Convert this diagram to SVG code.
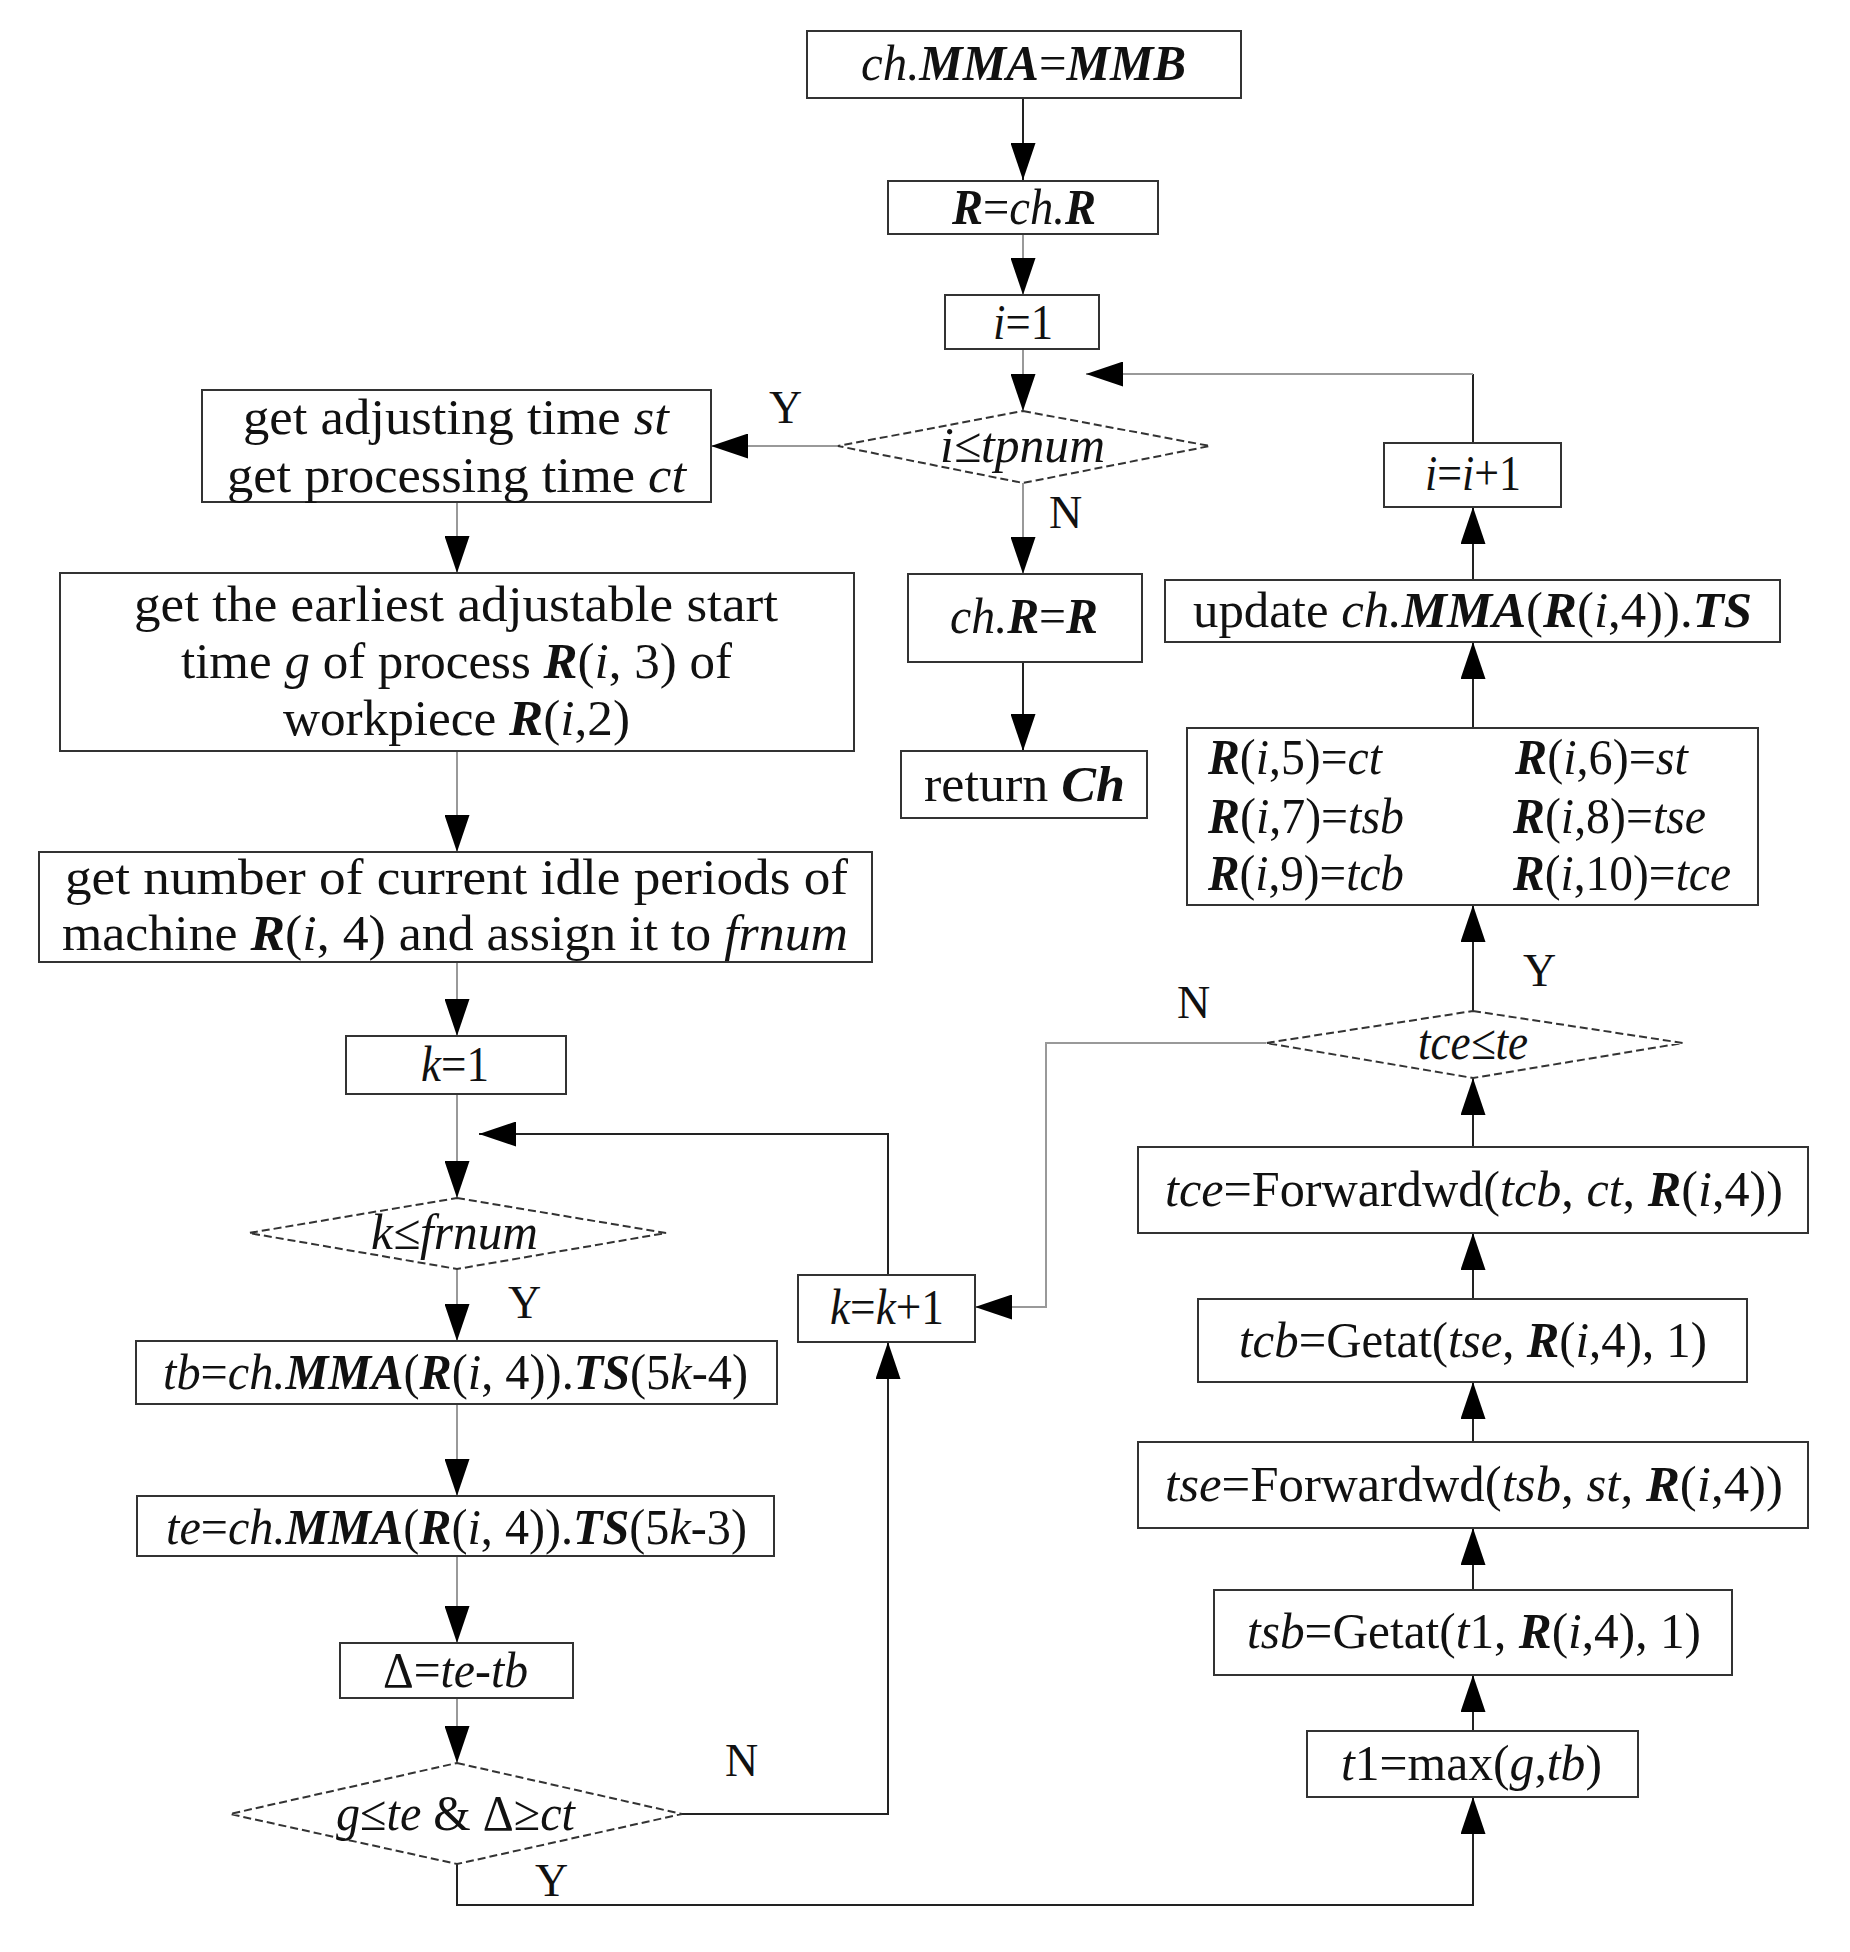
<svg xmlns="http://www.w3.org/2000/svg" width="1850" height="1952" viewBox="0 0 1850 1952">
<defs>
<style>
text{font-family:"Liberation Serif","Times New Roman",serif;font-size:50px;fill:#111}
.it{font-style:italic}
.bi{font-style:italic;font-weight:bold}
.box{fill:#fff;stroke:#333;stroke-width:2}
.dia{fill:#fff;stroke:#333;stroke-width:2;stroke-dasharray:8 4}
.ln{fill:none;stroke:#222;stroke-width:2}
.lg{fill:none;stroke:#999;stroke-width:2}
.lbl{font-size:46px}
</style>
<marker id="ah" viewBox="0 0 37 25" refX="37" refY="12.5" markerWidth="37" markerHeight="25" markerUnits="userSpaceOnUse" orient="auto">
<path d="M0,0 L37,12.5 L0,25 z" fill="#000"/>
</marker>
</defs>
<rect width="1850" height="1952" fill="#fff"/>

<g id="connectors">
<path class="ln" d="M1023,98 V180" marker-end="url(#ah)"/>
<path class="lg" d="M1023,234 V295" marker-end="url(#ah)"/>
<path class="lg" d="M1023,349 V411" marker-end="url(#ah)"/>
<path class="lg" d="M1023,483 V574" marker-end="url(#ah)"/>
<path class="ln" d="M1023,662 V751" marker-end="url(#ah)"/>
<path class="lg" d="M838,446 H711" marker-end="url(#ah)"/>
<path class="ln" d="M1473,443 V374"/>
<path class="lg" d="M1473,374 H1086" stroke-width="3" marker-end="url(#ah)"/>
<path class="lg" d="M457,502 V573" marker-end="url(#ah)"/>
<path class="lg" d="M457,751 V852" marker-end="url(#ah)"/>
<path class="lg" d="M457,962 V1036" marker-end="url(#ah)"/>
<path class="lg" d="M457,1094 V1198" marker-end="url(#ah)"/>
<path class="ln" d="M888,1275 V1134 H479" marker-end="url(#ah)"/>
<path class="lg" d="M457,1269 V1341" marker-end="url(#ah)"/>
<path class="lg" d="M457,1404 V1496" marker-end="url(#ah)"/>
<path class="lg" d="M457,1556 V1643" marker-end="url(#ah)"/>
<path class="lg" d="M457,1698 V1763" marker-end="url(#ah)"/>
<path class="ln" d="M682,1814 H888 V1342" marker-end="url(#ah)"/>
<path class="ln" d="M457,1864 V1905 H1473 V1797" marker-end="url(#ah)"/>
<path class="ln" d="M1473,1731 V1675" marker-end="url(#ah)"/>
<path class="ln" d="M1473,1590 V1528" marker-end="url(#ah)"/>
<path class="ln" d="M1473,1442 V1382" marker-end="url(#ah)"/>
<path class="ln" d="M1473,1299 V1233" marker-end="url(#ah)"/>
<path class="ln" d="M1473,1147 V1078" marker-end="url(#ah)"/>
<path class="ln" d="M1473,1011 V905" marker-end="url(#ah)"/>
<path class="ln" d="M1473,728 V642" marker-end="url(#ah)"/>
<path class="ln" d="M1473,580 V507" marker-end="url(#ah)"/>
<path class="lg" d="M1266,1043 H1046 V1307 H975" marker-end="url(#ah)"/>
<text class="lbl" x="769" y="423">Y</text>
<text class="lbl" x="1049" y="528">N</text>
<text class="lbl" x="508" y="1318">Y</text>
<text class="lbl" x="1177" y="1018">N</text>
<text class="lbl" x="1523" y="986">Y</text>
<text class="lbl" x="725" y="1776">N</text>
<text class="lbl" x="535" y="1896">Y</text>
</g>

<g id="n1"><rect class="box" x="807" y="31" width="434" height="67"/>
<text x="861" y="80" textLength="325" lengthAdjust="spacingAndGlyphs"><tspan class="it">ch.</tspan><tspan class="bi">MMA</tspan>=<tspan class="bi">MMB</tspan></text></g>

<g id="n2"><rect class="box" x="888" y="181" width="270" height="53"/>
<text x="952" y="224" textLength="144" lengthAdjust="spacingAndGlyphs"><tspan class="bi">R</tspan>=<tspan class="it">ch.</tspan><tspan class="bi">R</tspan></text></g>

<g id="n3"><rect class="box" x="945" y="295" width="154" height="54"/>
<text x="993" y="339" textLength="60" lengthAdjust="spacingAndGlyphs"><tspan class="it">i</tspan>=1</text></g>

<g id="n4"><polygon class="dia" points="1023,411 1210,446 1023,483 838,446"/>
<text x="940" y="462" textLength="165" lengthAdjust="spacingAndGlyphs" class="it">i≤tpnum</text></g>

<g id="n5"><rect class="box" x="202" y="390" width="509" height="112"/>
<text x="243" y="434" textLength="426" lengthAdjust="spacingAndGlyphs">get adjusting time <tspan class="it">st</tspan></text>
<text x="227" y="492" textLength="459" lengthAdjust="spacingAndGlyphs">get processing time <tspan class="it">ct</tspan></text></g>

<g id="n6"><rect class="box" x="908" y="574" width="234" height="88"/>
<text x="950" y="633" textLength="148" lengthAdjust="spacingAndGlyphs"><tspan class="it">ch.</tspan><tspan class="bi">R</tspan>=<tspan class="bi">R</tspan></text></g>

<g id="n7"><rect class="box" x="901" y="751" width="246" height="67"/>
<text x="924" y="801" textLength="201" lengthAdjust="spacingAndGlyphs">return <tspan class="bi">Ch</tspan></text></g>

<g id="n8"><rect class="box" x="60" y="573" width="794" height="178"/>
<text x="134" y="621" textLength="644" lengthAdjust="spacingAndGlyphs">get the earliest adjustable start</text>
<text x="181" y="678" textLength="551" lengthAdjust="spacingAndGlyphs">time <tspan class="it">g</tspan> of process <tspan class="bi">R</tspan>(<tspan class="it">i</tspan>, 3) of</text>
<text x="283" y="735" textLength="347" lengthAdjust="spacingAndGlyphs">workpiece <tspan class="bi">R</tspan>(<tspan class="it">i</tspan>,2)</text></g>

<g id="n9"><rect class="box" x="39" y="852" width="833" height="110"/>
<text x="65" y="894" textLength="783" lengthAdjust="spacingAndGlyphs">get number of current idle periods of</text>
<text x="62" y="950" textLength="786" lengthAdjust="spacingAndGlyphs">machine <tspan class="bi">R</tspan>(<tspan class="it">i</tspan>, 4) and assign it to <tspan class="it">frnum</tspan></text></g>

<g id="n10"><rect class="box" x="346" y="1036" width="220" height="58"/>
<text x="421" y="1081" textLength="68" lengthAdjust="spacingAndGlyphs"><tspan class="it">k</tspan>=1</text></g>

<g id="n11"><polygon class="dia" points="457,1198 666,1233 457,1269 249,1233"/>
<text x="371" y="1249" textLength="167" lengthAdjust="spacingAndGlyphs" class="it">k≤frnum</text></g>

<g id="n12"><rect class="box" x="136" y="1341" width="641" height="63"/>
<text x="163" y="1389" textLength="585" lengthAdjust="spacingAndGlyphs"><tspan class="it">tb</tspan>=<tspan class="it">ch.</tspan><tspan class="bi">MMA</tspan>(<tspan class="bi">R</tspan>(<tspan class="it">i</tspan>, 4)).<tspan class="bi">TS</tspan>(5<tspan class="it">k</tspan>-4)</text></g>

<g id="n13"><rect class="box" x="137" y="1496" width="637" height="60"/>
<text x="166" y="1544" textLength="581" lengthAdjust="spacingAndGlyphs"><tspan class="it">te</tspan>=<tspan class="it">ch.</tspan><tspan class="bi">MMA</tspan>(<tspan class="bi">R</tspan>(<tspan class="it">i</tspan>, 4)).<tspan class="bi">TS</tspan>(5<tspan class="it">k</tspan>-3)</text></g>

<g id="n14"><rect class="box" x="340" y="1643" width="233" height="55"/>
<text x="383" y="1687" textLength="145" lengthAdjust="spacingAndGlyphs">Δ=<tspan class="it">te</tspan>-<tspan class="it">tb</tspan></text></g>

<g id="n15"><polygon class="dia" points="457,1763 682,1814 457,1864 230,1814"/>
<text x="336" y="1830" textLength="239" lengthAdjust="spacingAndGlyphs"><tspan class="it">g</tspan>≤<tspan class="it">te</tspan> &amp; Δ≥<tspan class="it">ct</tspan></text></g>

<g id="n16"><rect class="box" x="798" y="1275" width="177" height="67"/>
<text x="830" y="1324" textLength="114" lengthAdjust="spacingAndGlyphs"><tspan class="it">k</tspan>=<tspan class="it">k</tspan>+1</text></g>

<g id="n17"><rect class="box" x="1384" y="443" width="177" height="64"/>
<text x="1425" y="490" textLength="96" lengthAdjust="spacingAndGlyphs"><tspan class="it">i</tspan>=<tspan class="it">i</tspan>+1</text></g>

<g id="n18"><rect class="box" x="1165" y="580" width="615" height="62"/>
<text x="1193" y="627" textLength="559" lengthAdjust="spacingAndGlyphs">update <tspan class="it">ch.</tspan><tspan class="bi">MMA</tspan>(<tspan class="bi">R</tspan>(<tspan class="it">i</tspan>,4)).<tspan class="bi">TS</tspan></text></g>

<g id="n19"><rect class="box" x="1187" y="728" width="571" height="177"/>
<text x="1208" y="774" textLength="174" lengthAdjust="spacingAndGlyphs"><tspan class="bi">R</tspan>(<tspan class="it">i</tspan>,5)=<tspan class="it">ct</tspan></text>
<text x="1515" y="774" textLength="173" lengthAdjust="spacingAndGlyphs"><tspan class="bi">R</tspan>(<tspan class="it">i</tspan>,6)=<tspan class="it">st</tspan></text>
<text x="1208" y="833" textLength="196" lengthAdjust="spacingAndGlyphs"><tspan class="bi">R</tspan>(<tspan class="it">i</tspan>,7)=<tspan class="it">tsb</tspan></text>
<text x="1513" y="833" textLength="193" lengthAdjust="spacingAndGlyphs"><tspan class="bi">R</tspan>(<tspan class="it">i</tspan>,8)=<tspan class="it">tse</tspan></text>
<text x="1208" y="890" textLength="196" lengthAdjust="spacingAndGlyphs"><tspan class="bi">R</tspan>(<tspan class="it">i</tspan>,9)=<tspan class="it">tcb</tspan></text>
<text x="1513" y="890" textLength="218" lengthAdjust="spacingAndGlyphs"><tspan class="bi">R</tspan>(<tspan class="it">i</tspan>,10)=<tspan class="it">tce</tspan></text></g>

<g id="n20"><polygon class="dia" points="1473,1011 1683,1043 1473,1078 1266,1043"/>
<text x="1418" y="1059" textLength="110" lengthAdjust="spacingAndGlyphs" class="it">tce≤te</text></g>

<g id="n21"><rect class="box" x="1138" y="1147" width="670" height="86"/>
<text x="1165" y="1206" textLength="618" lengthAdjust="spacingAndGlyphs"><tspan class="it">tce</tspan>=Forwardwd(<tspan class="it">tcb</tspan>, <tspan class="it">ct</tspan>, <tspan class="bi">R</tspan>(<tspan class="it">i</tspan>,4))</text></g>

<g id="n22"><rect class="box" x="1198" y="1299" width="549" height="83"/>
<text x="1239" y="1357" textLength="468" lengthAdjust="spacingAndGlyphs"><tspan class="it">tcb</tspan>=Getat(<tspan class="it">tse</tspan>, <tspan class="bi">R</tspan>(<tspan class="it">i</tspan>,4), 1)</text></g>

<g id="n23"><rect class="box" x="1138" y="1442" width="670" height="86"/>
<text x="1165" y="1501" textLength="618" lengthAdjust="spacingAndGlyphs"><tspan class="it">tse</tspan>=Forwardwd(<tspan class="it">tsb</tspan>, <tspan class="it">st</tspan>, <tspan class="bi">R</tspan>(<tspan class="it">i</tspan>,4))</text></g>

<g id="n24"><rect class="box" x="1214" y="1590" width="518" height="85"/>
<text x="1247" y="1648" textLength="454" lengthAdjust="spacingAndGlyphs"><tspan class="it">tsb</tspan>=Getat(<tspan class="it">t</tspan>1, <tspan class="bi">R</tspan>(<tspan class="it">i</tspan>,4), 1)</text></g>

<g id="n25"><rect class="box" x="1307" y="1731" width="331" height="66"/>
<text x="1341" y="1780" textLength="261" lengthAdjust="spacingAndGlyphs"><tspan class="it">t</tspan>1=max(<tspan class="it">g</tspan>,<tspan class="it">tb</tspan>)</text></g>
</svg>
